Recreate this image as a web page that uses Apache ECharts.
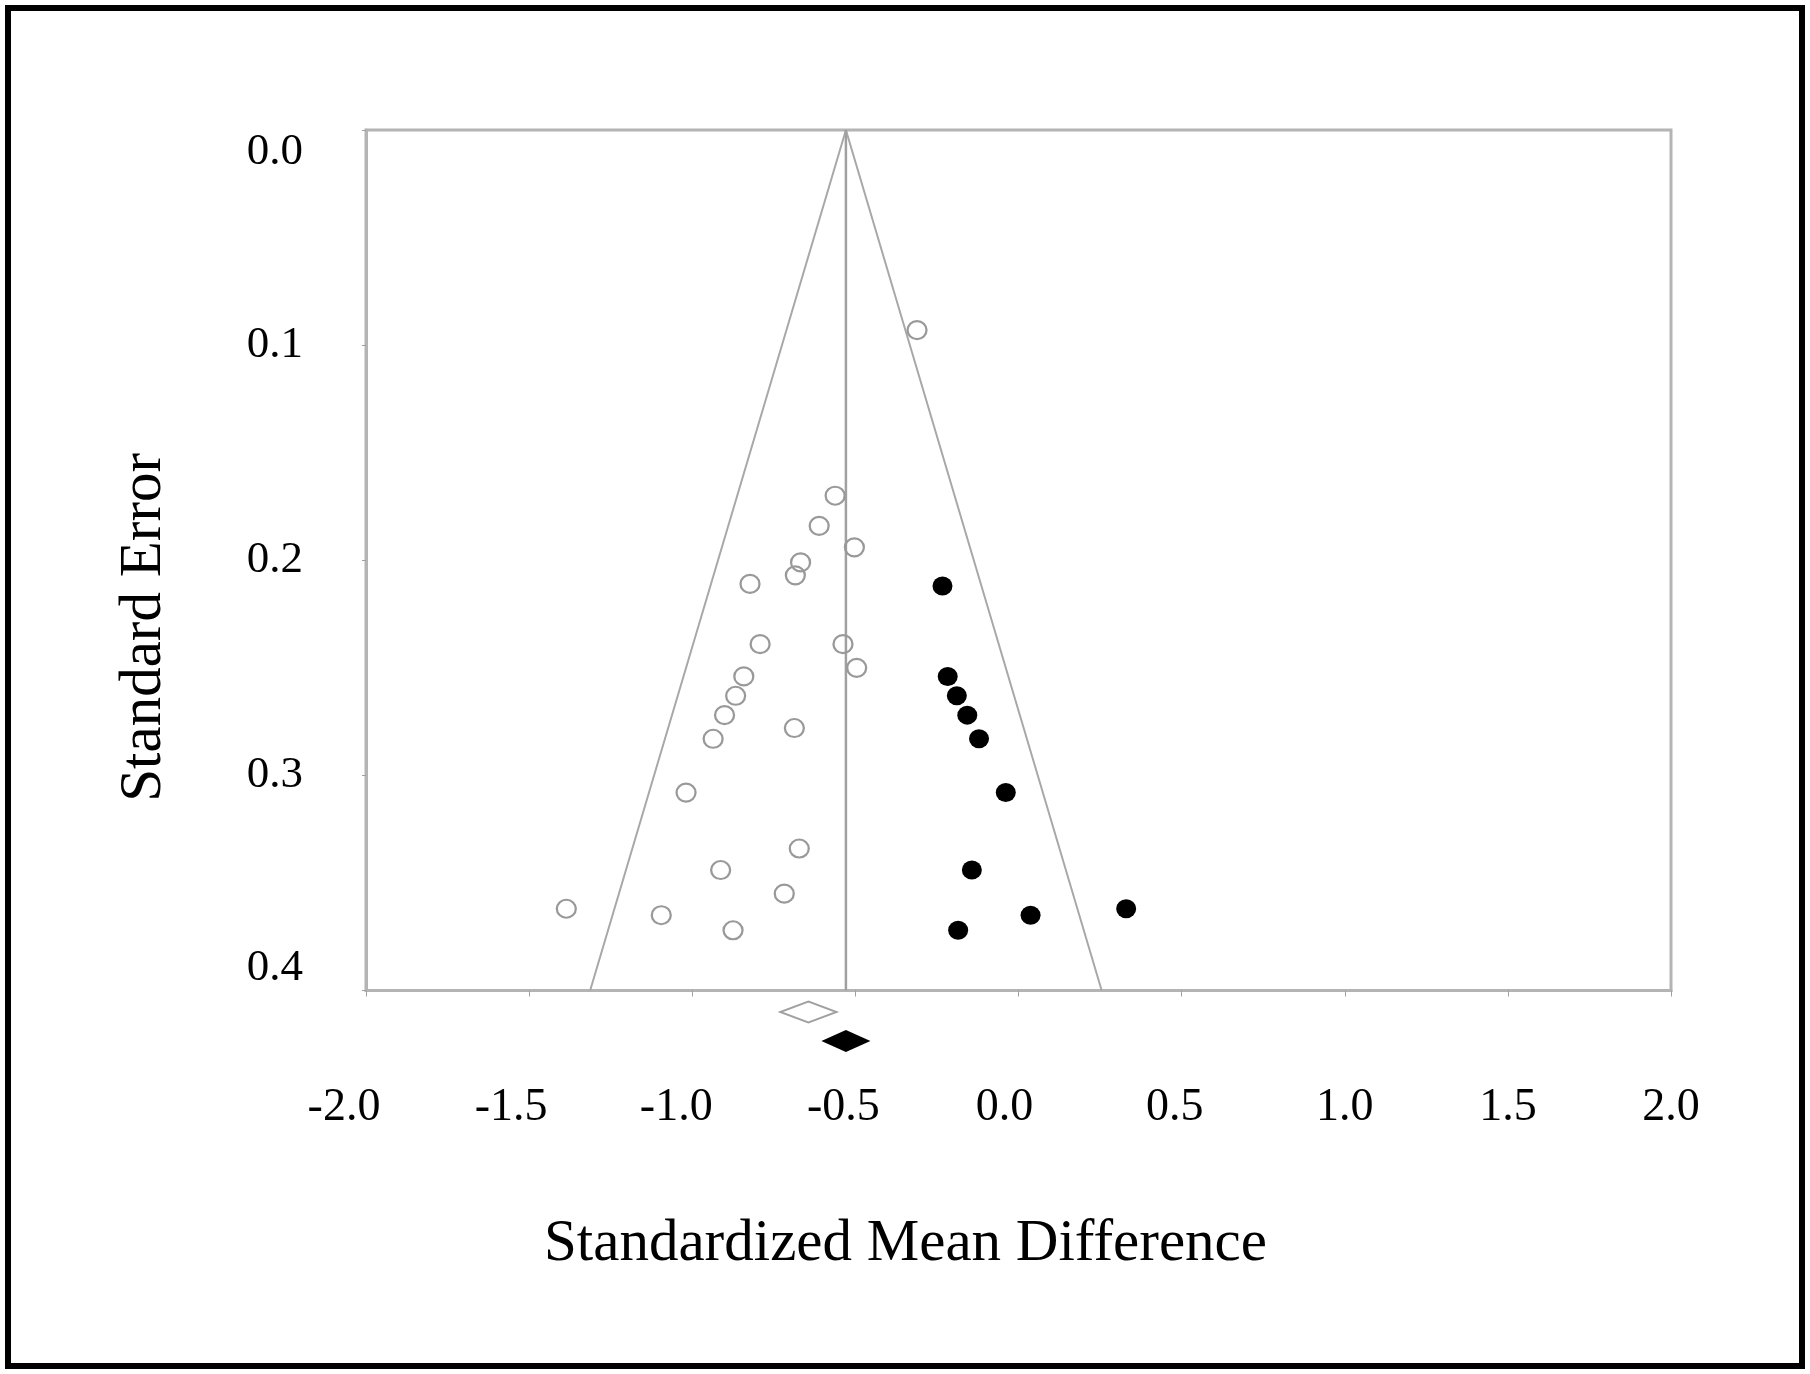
<!DOCTYPE html>
<html>
<head>
<meta charset="utf-8">
<script src="https://cdn.jsdelivr.net/npm/echarts@6/dist/echarts.min.js"></script>
<style>
html,body{margin:0;padding:0;background:#fff;}
#chart{width:1810px;height:1374px;}
</style>
</head>
<body>
<div id="chart"></div>
<script>
// Observed studies (open circles): standardized mean difference and standard error
const observedSMD = [-0.311,-0.562,-0.611,-0.503,-0.668,-0.684,-0.823,-0.792,-0.538,-0.496,-0.842,-0.867,-0.901,-0.687,-0.936,-1.019,-0.672,-0.913,-0.718,-1.386,-1.095,-0.875];
const observedSE  = [0.093,0.170,0.184,0.194,0.201,0.207,0.211,0.239,0.239,0.250,0.254,0.263,0.272,0.278,0.283,0.308,0.334,0.344,0.355,0.362,0.365,0.372];
// Imputed studies (filled circles)
const imputedSMD = [-0.233,-0.217,-0.189,-0.157,-0.121,-0.039,-0.143,0.037,0.330,-0.185];
const imputedSE  = [0.212,0.254,0.263,0.272,0.283,0.308,0.344,0.365,0.362,0.372];
// Pooled estimates
const pooledObserved = -0.644;
const pooledAdjusted = -0.529;
// Funnel (95% limits) vertices
const funnelSMD = [-1.313, -0.529, 0.255];
const funnelSE  = [0.4, 0.0, 0.4];
const meanLineSE = [0.0, 0.4];

const zip = (a, b) => a.map((v, i) => [v, b[i]]);
const serif = 'Liberation Serif';
const grey = '#a8a8a8';

// small leftward nudges of x tick labels, as in the source image (style only)
const xLabelNudge = { '-2.0': 22, '-1.5': 18, '-1.0': 16, '-0.5': 12, '0.0': 14, '0.5': 7, '1.0': 0, '1.5': 0, '2.0': 0 };
const xRich = {};
Object.keys(xLabelNudge).forEach((k, i) => {
  xRich['n' + i] = { fontFamily: serif, fontSize: 46, color: '#000', padding: [0, 2 * xLabelNudge[k], 0, 0] };
});
const xKeys = Object.keys(xLabelNudge);

const chart = echarts.init(document.getElementById('chart'));
chart.setOption({
  backgroundColor: '#fff',
  animation: false,
  grid: {
    left: 366, top: 130, width: 1305, height: 860.5,
    show: true, borderColor: '#b4b4b4', borderWidth: 3, backgroundColor: 'transparent'
  },
  xAxis: {
    type: 'value', min: -2, max: 2, interval: 0.5,
    name: 'Standardized Mean Difference',
    nameLocation: 'middle', nameGap: 224,
    nameTextStyle: { fontFamily: serif, fontSize: 59, color: '#000', padding: [0, 226, 0, 0] },
    axisLine: { show: true, onZero: false, lineStyle: { color: '#b4b4b4', width: 3 } },
    axisTick: { show: true, length: 6, lineStyle: { color: '#a0a0a0', width: 1 } },
    splitLine: { show: false },
    axisLabel: {
      fontFamily: serif, fontSize: 46, color: '#000', margin: 94,
      rich: xRich,
      formatter: v => {
        const s = v.toFixed(1);
        const i = xKeys.indexOf(s);
        return i >= 0 ? '{n' + i + '|' + s + '}' : s;
      }
    }
  },
  yAxis: {
    type: 'value', inverse: true, min: 0, max: 0.4, interval: 0.1,
    name: 'Standard Error',
    nameLocation: 'middle', nameGap: 192,
    nameTextStyle: { fontFamily: serif, fontSize: 59, color: '#000', padding: [0, 134, 0, 0] },
    axisLine: { show: true, onZero: false, lineStyle: { color: '#b4b4b4', width: 3 } },
    axisTick: { show: true, length: 4, lineStyle: { color: '#a0a0a0', width: 1 } },
    splitLine: { show: false },
    axisLabel: {
      fontFamily: serif, fontSize: 45, color: '#000', margin: 63,
      verticalAlignMinLabel: 'top', verticalAlignMaxLabel: 'bottom',
      formatter: v => v.toFixed(1)
    }
  },
  graphic: [{
    type: 'rect', silent: true, z: 100,
    shape: { x: 8, y: 8, width: 1794, height: 1358 },
    style: { fill: 'none', stroke: '#000', lineWidth: 6 }
  }],
  series: [
    {
      type: 'line', data: zip(funnelSMD, funnelSE), symbol: 'none', silent: true, z: 1,
      lineStyle: { color: grey, width: 2 }
    },
    {
      type: 'line', data: meanLineSE.map(s => [pooledAdjusted, s]), symbol: 'none', silent: true, z: 1,
      lineStyle: { color: '#a0a0a0', width: 2.5 }
    },
    {
      type: 'scatter', data: zip(observedSMD, observedSE), symbol: 'circle', symbolSize: [19, 18], z: 3,
      itemStyle: { color: 'rgba(255,255,255,0)', borderColor: '#999', borderWidth: 2.2, opacity: 1 }
    },
    {
      type: 'scatter', data: zip(imputedSMD, imputedSE), symbol: 'circle', symbolSize: [20, 19], z: 3,
      itemStyle: { color: '#000', opacity: 1 }
    },
    {
      type: 'scatter', clip: false, data: [[pooledObserved, 0.410]], symbol: 'diamond', symbolSize: [56, 21], z: 3,
      itemStyle: { color: '#fff', borderColor: '#a0a0a0', borderWidth: 2.5, opacity: 1 }
    },
    {
      type: 'scatter', clip: false, data: [[pooledAdjusted, 0.4235]], symbol: 'diamond', symbolSize: [49, 22], z: 3,
      itemStyle: { color: '#000', opacity: 1 }
    }
  ]
});
</script>
</body>
</html>
